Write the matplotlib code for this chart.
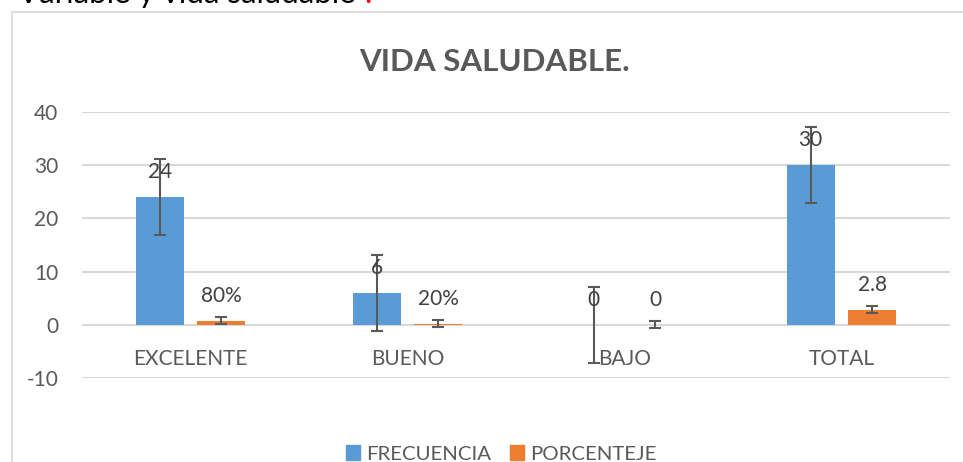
import matplotlib.pyplot as plt
from matplotlib.patches import Rectangle
import numpy as np

# Datos
categorias = ['EXCELENTE', 'BUENO', 'BAJO', 'TOTAL']
frecuencia = [24, 6, 0, 30]
porcentaje = [0.8, 0.2, 0, 2.8]
etiq_frec = ['24', '6', '0', '30']
etiq_porc = ['80%', '20%', '0', '2.8']
err_frec = 7.14   # error tipico
err_porc = 0.64

azul = '#5B9BD5'
naranja = '#ED7D31'
gris = '#595959'

plt.rcParams['font.family'] = ['Lato', 'DejaVu Sans']
plt.rcParams['axes.unicode_minus'] = False

fig = plt.figure(figsize=(9.63, 4.62), dpi=100)

# texto del documento, cortado arriba
fig.text(18 / 963, 1 - 3 / 462, 'Variable y vida saludable', fontsize=22.5,
         color='black', va='baseline', ha='left')
fig.text(364 / 963, 1 - 3 / 462, '.', fontsize=22.5, color='red',
         va='baseline', ha='left')

# borde del grafico
fig.patches.append(Rectangle((12 / 963, -0.1), 1.2, 1 - 12 / 462 + 0.1,
                             transform=fig.transFigure, fill=False,
                             edgecolor='#D9D9D9', linewidth=1.2))

ax = fig.add_axes([82 / 963, 1 - 378 / 462, 868 / 963, 266 / 462])

x = np.arange(len(categorias))
w = 0.221
off = 0.142
ax.bar(x - off, frecuencia, w, color=azul, zorder=3)
ax.bar(x + off, porcentaje, w, color=naranja, zorder=3)
ax.errorbar(x - off, frecuencia, yerr=err_frec, fmt='none', ecolor=gris,
            elinewidth=1.5, capsize=4.5, capthick=1.5, zorder=4)
ax.errorbar(x + off, porcentaje, yerr=err_porc, fmt='none', ecolor=gris,
            elinewidth=1.5, capsize=4.5, capthick=1.5, zorder=4)

for xi, v, t in zip(x - off, frecuencia, etiq_frec):
    ax.annotate(t, (xi, v), xytext=(0, 25), textcoords='offset pixels',
                ha='center', va='center', fontsize=15, color='#404040', zorder=5)
for xi, v, t in zip(x + off, porcentaje, etiq_porc):
    ax.annotate(t, (xi, v), xytext=(0, 25), textcoords='offset pixels',
                ha='center', va='center', fontsize=15, color='#404040', zorder=5)

ax.set_xlim(-0.5, 3.5)
ax.set_ylim(-10, 40)
ax.set_yticks([-10, 0, 10, 20, 30, 40])
ax.set_xticks(x)
ax.set_xticklabels(categorias)
ax.grid(axis='y', color='#D9D9D9', linewidth=1.5, zorder=0)
for s in ax.spines.values():
    s.set_visible(False)
ax.spines['bottom'].set_position(('data', 0))
ax.tick_params(axis='x', length=0, pad=17.5, labelsize=15, labelcolor=gris)
ax.tick_params(axis='y', length=0, pad=17, labelsize=15, labelcolor=gris)

fig.text(494 / 963, 1 - 62 / 462, 'VIDA SALUDABLE.', fontsize=22.5,
         fontweight='bold', color=gris, ha='center', va='center')

# leyenda
h1 = Rectangle((0, 0), 1, 1, color=azul)
h2 = Rectangle((0, 0), 1, 1, color=naranja)
fig.legend([h1, h2], ['FRECUENCIA', 'PORCENTEJE'], loc='center',
           bbox_to_anchor=(501 / 963, 1 - 454 / 462), ncol=2, frameon=False,
           fontsize=14.7, labelcolor=gris, handlelength=0.7, handleheight=0.7,
           handletextpad=0.3, columnspacing=0.9)

fig.savefig('out.png', dpi=100)
